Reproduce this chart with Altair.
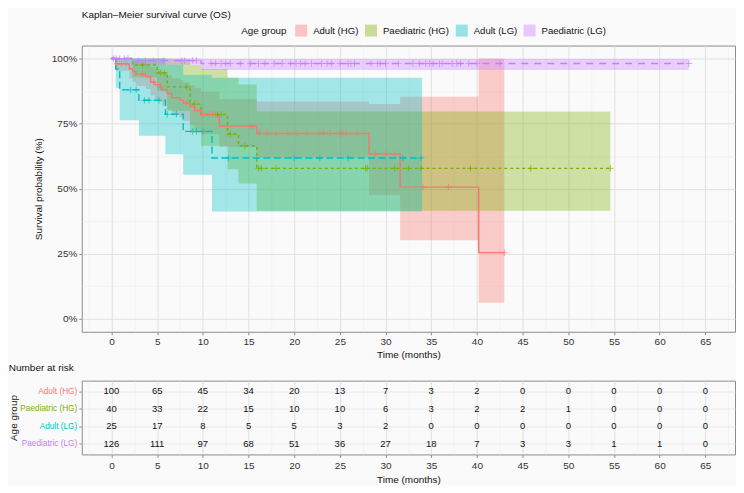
import altair as alt
import pandas as pd
import numpy as np

groups = ["Adult (HG)", "Paediatric (HG)", "Adult (LG)", "Paediatric (LG)"]
colors = ["#F8766D", "#7CAE00", "#00BFC4", "#C77CFF"]
dashes = [[1, 0], [3, 3], [7, 3.5], [7, 6]]

# ---- Adult (HG)
ahg_time = [0, 0.46, 1.96, 2.32, 2.68, 3.75, 4.28, 4.75, 5.35, 5.53, 6.07, 6.6, 7.5, 7.85, 8.57, 9.1, 9.8, 11.8, 15.9, 28.2, 31.6, 40.2]
ahg_surv = [100, 98, 96, 95, 94, 93, 91, 90, 89, 88, 86.6, 85, 84, 82.9, 81.6, 80.0, 78.5, 74.1, 71.2, 63.4, 50.6, 25.4]
ahg_low = [100, 95.3, 92.3, 91, 89.5, 88.3, 85.8, 84.5, 83.3, 82, 80.4, 78.6, 77.4, 76.1, 74.6, 72.8, 71.0, 66.0, 62.0, 47.7, 30.2, 6.2]
ahg_up = [100, 100, 99.8, 99.3, 98.7, 98, 96.8, 96, 95.3, 94.6, 93.6, 92.4, 91.7, 90.8, 89.8, 88.6, 87.2, 84.5, 83.5, 82.5, 85.3, 100]
ahg_end = 43.0
ahg_cens = [0.6, 1.1, 1.6, 3.4, 4.6, 5.4, 8.2, 10.0, 10.7, 11.1, 11.4, 15.2, 15.5, 16.2, 17.0, 18.0, 19.3,
            20.3, 21.4, 22.8, 23.2, 23.9, 25.0, 25.3, 25.7, 26.9, 28.9, 30.0, 31.0, 34.1, 36.9, 43.0]

# ---- Paediatric (HG)
phg_time = [0, 2.3, 5.0, 6.1, 8.6, 9.8, 12.7, 13.9, 15.9]
phg_surv = [100, 97.5, 94.5, 89.1, 82.5, 78.5, 71.0, 66.5, 57.8]
phg_low = [100, 92.8, 87.6, 79.9, 71.5, 66.5, 57.5, 52.0, 41.5]
phg_up = [100, 100, 100, 99.8, 97.5, 96.0, 92.6, 90.0, 79.7]
phg_end = 54.6
phg_cens = [3.4, 5.4, 5.8, 8.2, 9.1, 11.6, 12.0, 13.0, 14.6, 16.1, 16.4, 18.0, 27.8, 28.0, 31.0,
            32.5, 33.9, 39.3, 45.9, 54.6]

# ---- Adult (LG)
alg_time = [0, 0.46, 0.9, 3.0, 5.9, 7.85, 11.0]
alg_surv = [100, 96, 88, 84, 78.6, 72, 61.8]
alg_low = [100, 88.6, 76.3, 70.3, 63.2, 55.3, 41.2]
alg_up = [100, 100, 100, 100, 97.6, 93.8, 92.6]
alg_end = 34.0
alg_cens = [2.1, 2.7, 3.6, 4.1, 5.2, 6.1, 7.1, 8.9, 9.3, 10.0, 12.8, 20.0, 22.8, 25.9, 31.9, 33.9]

# ---- Paediatric (LG)
plg_time = [0, 2.2, 9.8]
plg_surv = [100, 99.2, 98.1]
plg_low = [100, 97.6, 95.6]
plg_up = [100, 100, 99.8]
plg_end = 63.2
plg_cens = [0.2, 0.5, 0.9, 1.4, 1.8, 2.9, 3.7, 4.6, 5.7, 7.7, 8.0, 8.9, 9.3, 10.9, 11.4, 12.0, 12.5, 13.0,
            14.1, 15.2, 16.1, 16.8, 17.8, 18.7, 19.6, 20.2, 20.7, 21.2, 21.9, 23.0, 23.6, 24.1, 25.0,
            25.9, 26.2, 26.6, 28.4, 29.1, 29.4, 30.0, 31.4, 33.0, 33.7, 34.4, 34.8, 35.2, 35.9, 36.2,
            37.3, 37.8, 38.2, 39.1, 40.0, 42.5, 63.2]

# ---- Number at risk
risk_times = [0, 5, 10, 15, 20, 25, 30, 35, 40, 45, 50, 55, 60, 65]
risk_ahg = [100, 65, 45, 34, 20, 13, 7, 3, 2, 0, 0, 0, 0, 0]
risk_phg = [40, 33, 22, 15, 10, 10, 6, 3, 2, 2, 1, 0, 0, 0]
risk_alg = [25, 17, 8, 5, 5, 3, 2, 0, 0, 0, 0, 0, 0, 0]
risk_plg = [126, 111, 97, 68, 51, 36, 27, 18, 7, 3, 3, 1, 1, 0]

# axis tick values (major every 5 / 25, minor halfway)
x_grid_vals = [-2.5, 0, 2.5, 5, 7.5, 10, 12.5, 15, 17.5, 20, 22.5, 25, 27.5, 30, 32.5, 35, 37.5, 40,
               42.5, 45, 47.5, 50, 52.5, 55, 57.5, 60, 62.5, 65, 67.5]
y_grid_vals = [0, 12.5, 25, 37.5, 50, 62.5, 75, 87.5, 100]

curves = [
    (groups[0], ahg_time, ahg_surv, ahg_low, ahg_up, ahg_end, ahg_cens),
    (groups[1], phg_time, phg_surv, phg_low, phg_up, phg_end, phg_cens),
    (groups[2], alg_time, alg_surv, alg_low, alg_up, alg_end, alg_cens),
    (groups[3], plg_time, plg_surv, plg_low, plg_up, plg_end, plg_cens),
]

line_rows, cens_rows = [], []
for g, t, s, lo, hi, end, cens in curves:
    for ti, si, li, ui in zip(t + [end], s + [s[-1]], lo + [lo[-1]], hi + [hi[-1]]):
        line_rows.append({"group": g, "time": ti, "surv": si, "low": li, "up": ui})
    tarr = np.array(t)
    for c in cens:
        idx = int(np.searchsorted(tarr, c, side="right")) - 1
        cens_rows.append({"group": g, "time": c, "surv": s[idx]})
line_df = pd.DataFrame(line_rows)
cens_df = pd.DataFrame(cens_rows)

risk_rows = []
for g, vals in zip(groups, [risk_ahg, risk_phg, risk_alg, risk_plg]):
    for ti, n in zip(risk_times, vals):
        risk_rows.append({"group": g, "time": ti, "n": n})
risk_df = pd.DataFrame(risk_rows)

FONT = "Liberation Sans"
W = 655

major_x = "datum.value % 5 === 0"
grid_color_x = {"condition": {"test": major_x, "value": "#DEDEDE"}, "value": "#ECECEC"}
grid_width_x = {"condition": {"test": major_x, "value": 0.9}, "value": 0.5}
tick_color_x = {"condition": {"test": major_x, "value": "#8C8C8C"}, "value": "transparent"}

major_y = "datum.value % 25 === 0"
grid_color_y = {"condition": {"test": major_y, "value": "#DEDEDE"}, "value": "#ECECEC"}
grid_width_y = {"condition": {"test": major_y, "value": 0.9}, "value": 0.5}
tick_color_y = {"condition": {"test": major_y, "value": "#8C8C8C"}, "value": "transparent"}

x_scale = alt.Scale(domain=[-3.25, 68.25], nice=False, zero=False)
y_scale = alt.Scale(domain=[-5, 105], nice=False, zero=False)
color_scale = alt.Scale(domain=groups, range=colors)

x_axis_main = alt.Axis(values=x_grid_vals, labelExpr="datum.value % 5 === 0 ? '' + datum.value : ''",
                       gridColor=grid_color_x, gridWidth=grid_width_x, tickColor=tick_color_x,
                       tickSize=3, labelPadding=2, domain=False, title="Time (months)", titlePadding=3,
                       labelOverlap=False, labelFlush=False)
y_axis_main = alt.Axis(values=y_grid_vals, labelExpr="datum.value % 25 === 0 ? datum.value + '%' : ''",
                       gridColor=grid_color_y, gridWidth=grid_width_y, tickColor=tick_color_y,
                       tickSize=3, labelPadding=2, domain=False, title="Survival probability (%)",
                       titlePadding=8, labelOverlap=False, labelFlush=False)

legend = alt.Legend(orient="none", legendX=160, legendY=-21, direction="horizontal", titleOrient="left",
                    title="Age group", symbolType="square", symbolSize=144, symbolOpacity=0.4,
                    symbolStrokeWidth=0, labelFontSize=9.6, titleFontSize=9.8, titleFontWeight="normal",
                    columnPadding=6, labelOffset=6, titlePadding=8, labelFont=FONT, titleFont=FONT,
                    labelColor="#111", titleColor="#111")

base = alt.Chart(line_df)

X = alt.X("time:Q", scale=x_scale, axis=x_axis_main)
bands = base.mark_area(interpolate="step-after", opacity=0.35).encode(
    x=X,
    y=alt.Y("low:Q", scale=y_scale, axis=y_axis_main),
    y2="up:Q",
    color=alt.Color("group:N", scale=color_scale, legend=legend),
)

lines = base.mark_line(interpolate="step-after", strokeWidth=1.4).encode(
    x=X,
    y=alt.Y("surv:Q", scale=y_scale, axis=y_axis_main),
    color=alt.Color("group:N", scale=color_scale, legend=legend),
    strokeDash=alt.StrokeDash("group:N", scale=alt.Scale(domain=groups, range=dashes), legend=None),
)

cross = "M-1,0L1,0M0,-1L0,1"
points = alt.Chart(cens_df).mark_point(shape=cross, filled=False, size=42, strokeWidth=1).encode(
    x=X,
    y=alt.Y("surv:Q", scale=y_scale, axis=y_axis_main),
    color=alt.Color("group:N", scale=color_scale, legend=legend),
)

main = alt.layer(bands, lines, points).properties(
    width=W, height=287,
    title=alt.TitleParams("Kaplan–Meier survival curve (OS)", anchor="start", frame="group", fontSize=10,
                          fontWeight="normal", font=FONT, color="#111", offset=26),
)

label_color = {"condition": [{"test": f"datum.value === '{g}'", "value": c} for g, c in zip(groups, colors)],
               "value": "#333"}

x_axis_risk = alt.Axis(values=x_grid_vals, labelExpr="datum.value % 5 === 0 ? '' + datum.value : ''",
                       gridColor=grid_color_x, gridWidth=grid_width_x, tickColor=tick_color_x,
                       tickSize=3, labelPadding=3, domain=False, title="Time (months)", titlePadding=4,
                       labelOverlap=False, labelFlush=False)
y_axis_risk = alt.Axis(title="Age group", labelColor=label_color, labelFontSize=8.3, tickSize=3,
                       tickColor="#8C8C8C", labelPadding=2, domain=False, grid=True,
                       gridColor="#E6E6E6", gridWidth=0.8, titlePadding=1)

risk = alt.Chart(risk_df).mark_text(font=FONT, fontSize=9.5, color="#111").encode(
    x=alt.X("time:Q", scale=x_scale, axis=x_axis_risk),
    y=alt.Y("group:N", sort=groups, scale=alt.Scale(type="point", padding=0.6, domain=groups),
            axis=y_axis_risk),
    text="n:Q",
).properties(
    width=W, height=74,
    title=alt.TitleParams("Number at risk", anchor="start", frame="bounds", fontSize=10,
                          fontWeight="normal", font=FONT, color="#111", offset=8),
)

chart = alt.vconcat(main, risk, spacing=49, bounds="flush").properties(
    padding=0, background="#FAFAFA"
).configure_view(
    stroke="#8C8C8C", strokeWidth=1, fill="#FAFAFA"
).configure_axis(
    labelFont=FONT, titleFont=FONT, labelFontSize=10, titleFontSize=10, titleFontWeight="normal",
    labelColor="#333", titleColor="#111"
)

chart.save("out.html", embed_options={"renderer": "svg", "actions": False})
